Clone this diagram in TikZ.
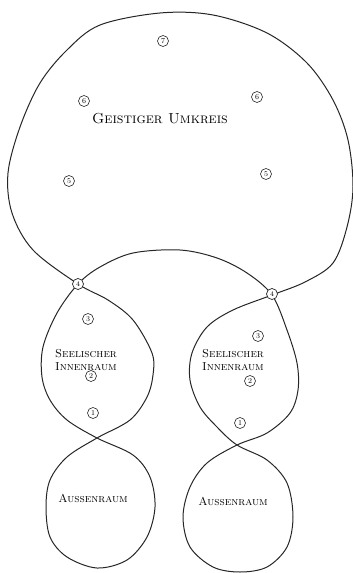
\documentclass[tikz,border=0pt]{standalone}
\usepackage{tikz}
\usetikzlibrary{positioning}

\begin{document}
\begin{tikzpicture}[x=1pt, y=-1pt,
  strand/.style={draw=black!85, line width=1pt, line join=round},
  num/.style={circle, draw=black!85, line width=0.6pt, inner sep=0pt,
    minimum size=11pt, font=\fontsize{7.5}{7.5}\selectfont},
  knot/.style={circle, draw=black!85, line width=0.7pt, inner sep=0pt,
    minimum size=11pt, font=\fontsize{7}{7}\selectfont},
  areatext/.style={font=\fontsize{11.5}{12.5}\selectfont\scshape, align=left, inner sep=0pt},
  bigtext/.style={font=\fontsize{14.5}{16}\selectfont\scshape, inner sep=0pt}
]
\useasboundingbox (0,0) rectangle (353,573);

% one closed line: outer circle, two lenses, two lower circles
\draw[strand] plot[smooth cycle, tension=0.55] coordinates {
  (160,13) (100,25) (67,50) (40,83) (20,127) (8,173) (12,213) (33,250)
  (78,284) (108,300) (133,320) (152,353) (153,375) (147,397) (130,420)
  (97,438) (67,457) (50,480) (46,507) (50,537) (67,557) (97,568) (127,560)
  (147,537) (155,507) (150,477) (133,455)
  (97,438) (67,420) (50,400) (42,377) (43,347) (57,313)
  (78,284) (100,267) (133,253) (180,250) (217,258) (247,273)
  (272,295) (287,330) (297,363) (298,390) (290,413) (267,433)
  (237,445) (207,463) (190,487) (183,517) (190,547) (213,567) (240,572)
  (267,567) (287,547) (293,517) (287,483) (267,460)
  (237,445) (217,427) (200,407) (190,380) (192,353) (207,327) (233,310)
  (272,295) (305,282) (333,263) (347,227) (353,187) (348,140) (333,100)
  (307,63) (267,33) (213,15)
};

% crossings
\node[knot, fill=white] (kl) at (78,284) {4};
\node[knot, fill=white] (kr) at (272,294) {4};

% upper region
\node[bigtext] (geist) at (160,119) {Geistiger Umkreis};
\node[num] (n7) at (163,41) {7};
\node[num] (n6l) at (84,101) {6};
\node[num] (n6r) at (257,97) {6};
\node[num] (n5l) at (69,181) {5};
\node[num] (n5r) at (266,174) {5};

% left column
\node[num] (l3) at (88,319) {3};
\node[areatext, anchor=west] (lsee) at (55,360) {Seelischer\\Innenraum};
\node[num] (l2) at (91,376) {2};
\node[num] (l1) at (93,413) {1};
\node[areatext] (laus) at (93,498) {Aussenraum};

% right column
\node[num] (r3) at (258,336) {3};
\node[areatext, anchor=west] (rsee) at (202,360) {Seelischer\\Innenraum};
\node[num] (r2) at (250,381) {2};
\node[num] (r1) at (240,423) {1};
\node[areatext] (raus) at (233,501) {Aussenraum};

\end{tikzpicture}
\end{document}
